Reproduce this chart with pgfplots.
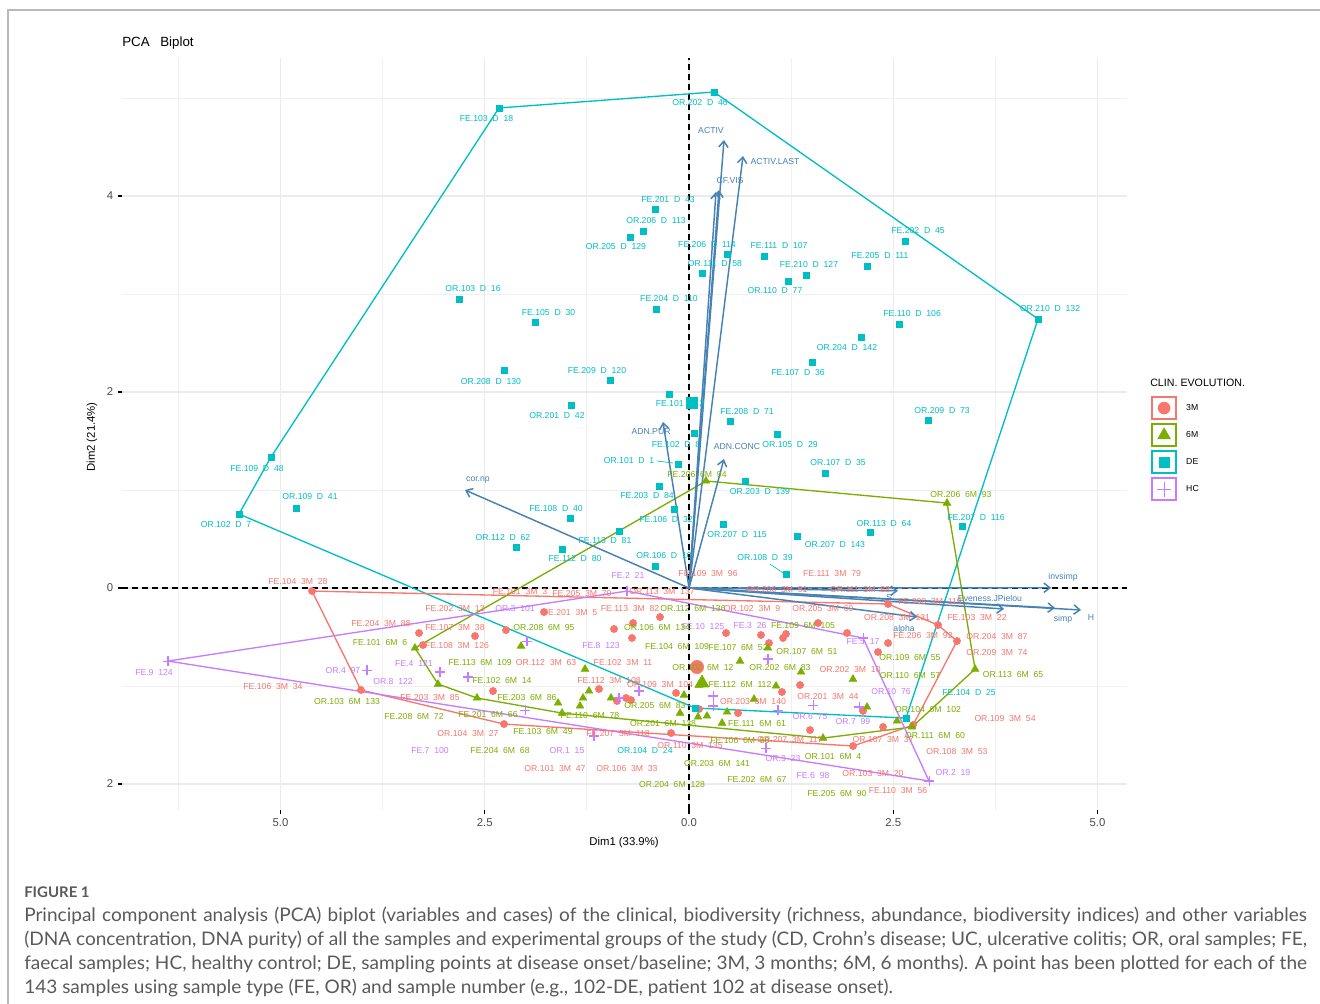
\documentclass[border=0pt]{standalone}
\usepackage{fontspec}
\setmainfont{Liberation Sans}
\newfontfamily\capfont[FakeStretch=1.02]{Lato}
\usepackage{pgfplots}
\pgfplotsset{compat=1.18}
\usetikzlibrary{arrows.meta}
\definecolor{c3M}{HTML}{F8766D}
\definecolor{c6M}{HTML}{7CAE00}
\definecolor{cDE}{HTML}{00BFC4}
\definecolor{cHC}{HTML}{C77CFF}
\definecolor{steel}{HTML}{4682B4}
\definecolor{gridc}{HTML}{EBEBEB}
\definecolor{capgray}{HTML}{5A5A5A}
\newcommand\labfont{\fontsize{6.5}{7}\selectfont\spaceskip=0.55em\relax}
\pgfplotsset{
  lab/.style={only marks, mark=none, forget plot, point meta=explicit symbolic,
    nodes near coords,
    every node near coord/.append style={anchor=center, inner sep=0pt, text=#1, font=\labfont}},
  arr/.style={steel, line width=1.1pt, forget plot, -{Straight Barb[length=4.5pt,width=7pt]}},
  keyimg/.style 2 args={legend image code/.code={%
    \draw[#1, line width=1.2pt] (0pt,-8.25pt) rectangle (18pt,8.25pt);
    \draw[mark repeat=2, mark phase=2, ##1, mark size=#2] plot coordinates {(0pt,0pt)(9pt,0pt)(18pt,0pt)};}},
}
\begin{document}
\begin{tikzpicture}
\useasboundingbox (0,0) rectangle (990pt,-752.25pt);
\fill[white] (0,0) rectangle (990pt,-752.25pt);
\draw[gray!55, line width=0.8pt] (6pt,-7.5pt) rectangle (1000pt,-770pt);
\node[anchor=base west, inner sep=0pt, font=\fontsize{10}{12}\selectfont] at (91.5pt,-34.5pt) {PCA\hspace{8pt}Biplot};
\node[anchor=base west, inner sep=0pt, font=\fontsize{8}{9}\selectfont] at (862.5pt,-289.5pt) {CLIN. EVOLUTION.};
\begin{axis}[
  at={(91.5pt,-607.5pt)}, anchor=south west,
  scale only axis, width=753.75pt, height=564pt,
  xmin=-6.94, xmax=5.361, ymin=-2.265, ymax=5.408,
  clip=false,
  axis line style={draw=none},
  tick pos=left, tick align=outside,
  major tick length=3pt, minor tick length=0pt,
  tick style={black, line width=0.9pt},
  xtick={-5,-2.5,0,2.5,5}, xticklabels={5.0,2.5,0.0,2.5,5.0},
  ytick={-2,0,2,4}, yticklabels={2,0,2,4},
  minor xtick={-6.25,-3.75,-1.25,1.25,3.75},
  minor ytick={-1,1,3,5},
  grid=both,
  major grid style={gridc, line width=1.1pt},
  minor grid style={gridc!75, line width=0.6pt},
  ticklabel style={font=\fontsize{8.5}{10}\selectfont, text=black!70},
  xlabel={Dim1 (33.9\%)}, ylabel={Dim2 (21.4\%)},
  label style={font=\fontsize{8.5}{10}\selectfont},
  xlabel style={at={(axis description cs:0.4995,-0.0439)}, anchor=center},
  ylabel style={at={(axis description cs:-0.0299,0.496)}, anchor=center},
  legend style={at={(axis description cs:1.0239,0.5505)}, anchor=north west,
    draw=none, fill=none, font=\fontsize{6.5}{7}\selectfont,
    row sep=2.6pt, column sep=5pt, inner sep=0pt},
  legend cell align=left,
]
% zero lines
\addplot[black, line width=1.3pt, dash pattern=on 4.5pt off 3pt, forget plot] coordinates {(-6.94,0) (5.361,0)};
\addplot[black, line width=1.3pt, dash pattern=on 4.5pt off 3pt, forget plot] coordinates {(0,-2.265) (0,5.408)};
% hulls
\addplot[cDE, line width=1pt, forget plot] coordinates {(0.306,5.061) (4.272,2.745) (2.656,-1.327) (0.073,-1.224) (-5.508,0.755) (-5.116,1.337) (-2.326,4.898) (0.306,5.061)};
\addplot[c3M, line width=1pt, forget plot] coordinates {(-4.614,-0.031) (2.436,-0.163) (3.048,-0.378) (3.280,-0.541) (2.742,-1.398) (2.007,-1.612) (-2.264,-1.388) (-4.015,-1.041) (-4.614,-0.031)};
\addplot[c6M, line width=1pt, forget plot] coordinates {(0.208,1.092) (3.158,0.867) (3.501,-0.827) (2.729,-1.418) (1.640,-1.531) (-1.554,-1.276) (-2.595,-1.122) (-3.072,-0.980) (-3.354,-0.612) (0.208,1.092)};
\addplot[cHC, line width=1pt, forget plot] coordinates {(-6.377,-0.745) (-0.759,-0.031) (2.130,-0.510) (2.938,-1.969) (-6.377,-0.745)};
% leader lines
\addplot[cDE, line width=0.5pt, forget plot] coordinates {(-0.392,1.296) (-0.196,1.276)};
\addplot[cDE, line width=0.5pt, forget plot] coordinates {(0.991,0.245) (1.151,0.153)};
% markers
\addplot[only marks, mark=*, c3M, mark size=2.7pt, keyimg={c3M}{4.5pt}]
 coordinates {(-4.614,-0.031) (-3.305,-0.459) (-3.256,-0.582) (-2.619,-0.490) (-2.240,-0.429) (-1.775,-0.245) (-0.918,-0.418) (-0.685,-0.357) (-0.698,-0.510) (-0.355,-0.296) (-1.102,-1.031) (-0.771,-1.122) (-0.710,-1.143) (-0.881,-1.153) (-2.399,-1.051) (-2.264,-1.388) (-4.015,-1.041) (-0.159,-1.071) (-0.220,-1.480) (0.453,-0.459) (0.881,-0.480) (0.979,-0.561) (1.151,-0.510) (1.187,-0.469) (1.579,-0.357) (1.934,-0.459) (2.436,-0.163) (3.048,-0.378) (3.280,-0.541) (2.436,-0.561) (2.313,-0.653) (1.138,-1.061) (1.359,-0.990) (0.600,-1.276) (1.481,-1.449) (2.007,-1.612) (2.130,-1.255) (2.375,-1.418) (2.742,-1.398) (0.122,-1.235)};
\addlegendentry{3M}
\addplot[only marks, mark=triangle*, c6M, mark size=3.3pt, keyimg={c6M}{5.5pt}]
 coordinates {(-3.354,-0.612) (-3.072,-0.980) (-2.595,-1.122) (-2.056,-0.592) (-1.273,-0.827) (-1.224,-1.051) (-1.297,-1.122) (-1.603,-1.173) (-1.334,-1.204) (-1.554,-1.276) (-0.955,-1.122) (-0.061,-1.092) (-0.110,-1.276) (0.122,-0.990) (0.208,1.092) (3.158,0.867) (3.501,-0.827) (2.729,-1.418) (2.546,-1.357) (1.640,-1.531) (0.967,-0.612) (0.624,-0.745) (1.371,-0.857) (1.065,-1.000) (2.007,-0.929) (0.796,-1.133) (0.465,-1.265) (0.220,-1.306) (0.110,-1.316) (0.404,-1.378) (2.179,-1.214)};
\addlegendentry{6M}
\addplot[only marks, mark=square*, cDE, mark size=2.3pt, keyimg={cDE}{4pt}]
 coordinates {(0.306,5.061) (-2.326,4.898) (-0.416,3.867) (-0.563,3.643) (-0.722,3.582) (-2.815,2.949) (-1.885,2.714) (-0.404,2.847) (0.465,3.408) (0.159,3.214) (0.918,3.388) (1.432,3.194) (1.212,3.133) (2.179,3.286) (2.644,3.541) (4.272,2.745) (2.570,2.694) (2.105,2.561) (1.506,2.306) (-2.264,2.224) (-0.967,2.122) (-0.245,1.980) (-1.444,1.867) (-5.116,1.337) (-4.810,0.816) (-5.508,0.755) (-1.457,0.714) (-2.118,0.418) (-1.554,0.398) (-0.857,0.582) (-0.416,0.224) (-0.367,1.041) (-0.184,0.806) (-0.135,1.265) (0.061,1.582) (0.685,1.092) (0.416,0.653) (1.077,1.571) (0.502,1.704) (2.925,1.714) (1.665,1.173) (3.341,0.633) (2.215,0.571) (1.322,0.531) (1.187,0.143) (0.073,-1.224) (2.656,-1.327)};
\addlegendentry{DE}
\addplot[only marks, mark=+, cHC, mark size=3.8pt, line width=0.8pt, keyimg={cHC}{5.5pt}]
 coordinates {(-6.377,-0.745) (-3.941,-0.837) (-3.048,-0.857) (-2.705,-0.908) (-1.983,-0.541) (-0.759,-0.031) (-0.857,-1.122) (-0.612,-1.051) (-2.007,-1.245) (-1.163,-1.510) (0.967,-0.724) (2.130,-0.510) (0.294,-1.102) (0.294,-1.204) (1.089,-1.245) (1.518,-1.194) (2.081,-1.214) (0.942,-1.633) (2.938,-1.969)};
\addlegendentry{HC}
% group means
\addplot[only marks, mark=*, c3M, mark size=5pt, forget plot] coordinates {(0.098,-0.806)};
\addplot[only marks, mark=triangle*, c6M, mark size=6pt, forget plot] coordinates {(0.159,-0.969)};
\addplot[only marks, mark=square*, cDE, mark size=4pt, forget plot] coordinates {(0.037,1.888)};
% labels
\addplot[lab=cDE] coordinates {
(-2.479,4.789) [FE.103 D 18] (0.135,4.949) [OR.202 D 46] (-0.257,3.969) [FE.201 D 43] (-0.404,3.745) [OR.206 D 113]
(-0.894,3.480) [OR.205 D 129] (-2.644,3.051) [OR.103 D 16] (-1.720,2.816) [FE.105 D 30] (-0.245,2.949) [FE.204 D 110]
(0.220,3.510) [FE.206 D 114] (0.318,3.306) [OR.111 D 58] (1.102,3.490) [FE.111 D 107] (1.469,3.296) [FE.210 D 127]
(1.053,3.031) [OR.110 D 77] (2.338,3.388) [FE.205 D 111] (2.803,3.643) [FE.202 D 45] (4.419,2.847) [OR.210 D 132]
(2.730,2.796) [FE.110 D 106] (1.934,2.459) [OR.204 D 142] (1.334,2.204) [FE.107 D 36] (-2.424,2.112) [OR.208 D 130]
(-1.126,2.224) [FE.209 D 120] (-0.110,1.878) [FE.101 D 2] (-1.616,1.765) [OR.201 D 42] (-5.288,1.224) [FE.109 D 48]
(-4.639,0.929) [OR.109 D 41] (-5.667,0.653) [OR.102 D 7] (-1.628,0.816) [FE.108 D 40] (-2.277,0.520) [OR.112 D 62]
(-1.395,0.296) [FE.112 D 80] (-1.028,0.480) [FE.113 D 81] (-0.514,0.939) [FE.203 D 84] (-0.282,0.694) [FE.106 D 32]
(-0.734,1.296) [OR.101 D 1] (-0.159,1.469) [FE.102 D 8] (-0.306,0.327) [OR.106 D 10] (0.710,1.806) [FE.208 D 71]
(1.236,1.469) [OR.105 D 29] (3.097,1.816) [OR.209 D 73] (1.824,1.276) [OR.107 D 35] (0.869,0.980) [OR.203 D 139]
(3.513,0.724) [FE.207 D 116] (2.387,0.663) [OR.113 D 64] (0.588,0.541) [OR.207 D 115] (1.787,0.449) [OR.207 D 143]
(0.930,0.316) [OR.108 D 39] (-0.539,-1.653) [OR.104 D 24] (3.427,-1.071) [FE.104 D 25]
};
\addplot[lab=cHC] coordinates {
(-6.548,-0.857) [FE.9 124] (-4.235,-0.837) [OR.4 97] (-3.623,-0.949) [OR.8 122] (-3.366,-0.765) [FE.4 121]
(-2.130,-0.214) [OR.3 101] (-1.077,-0.582) [FE.8 123] (-0.747,0.133) [FE.2 21] (0.171,-0.388) [FE.10 125]
(0.747,-0.378) [FE.3 26] (2.130,-0.551) [FE.5 17] (2.472,-1.061) [OR.10 76] (1.481,-1.306) [OR.6 75]
(2.007,-1.367) [OR.7 99] (1.151,-1.735) [OR.3 23] (1.518,-1.908) [FE.6 98] (-1.493,-1.653) [OR.1 15]
(-3.170,-1.663) [FE.7 100] (3.231,-1.878) [OR.2 19]
};
\addplot[lab=c3M] coordinates {
(-4.786,0.071) [FE.104 3M 28] (-3.770,-0.367) [FE.204 3M 88] (-5.092,-1.000) [FE.106 3M 34] (-2.069,-0.031) [FE.101 3M 3]
(-1.310,-0.051) [FE.205 3M 70] (-0.330,-0.031) [OR.113 3M 137] (-2.864,-0.204) [FE.202 3M 13] (-1.457,-0.245) [FE.201 3M 5]
(-0.722,-0.214) [FE.113 3M 82] (-2.864,-0.398) [FE.107 3M 38] (-2.840,-0.582) [FE.108 3M 126] (-1.750,-0.755) [OR.112 3M 63]
(-0.808,-0.765) [FE.102 3M 11] (-0.979,-0.939) [FE.112 3M 108] (-0.355,-0.980) [OR.109 3M 104] (-3.170,-1.122) [FE.203 3M 85]
(-2.705,-1.480) [OR.104 3M 27] (-0.869,-1.480) [FE.207 3M 118] (-1.640,-1.837) [OR.101 3M 47] (-0.759,-1.837) [OR.106 3M 33]
(0.012,-1.602) [OR.110 3M 135] (0.233,0.143) [FE.109 3M 96] (1.750,0.153) [FE.111 3M 79] (1.077,-0.020) [OR.206 3M 91]
(2.093,-0.020) [OR.111 3M 88] (0.771,-0.204) [OR.102 3M 9] (1.640,-0.204) [OR.205 3M 69] (2.546,-0.306) [OR.208 3M 131]
(2.950,-0.133) [FE.208 3M 119] (2.864,-0.480) [FE.206 3M 92] (3.525,-0.306) [FE.103 3M 22] (3.770,-0.490) [OR.204 3M 87]
(3.770,-0.663) [OR.209 3M 74] (1.971,-0.827) [OR.202 3M 10] (1.701,-1.102) [OR.201 3M 44] (0.783,-1.153) [OR.203 3M 140]
(1.236,-1.541) [OR.207 3M 117] (2.375,-1.541) [OR.107 3M 37] (3.868,-1.327) [OR.109 3M 54] (3.280,-1.673) [OR.108 3M 53]
(2.252,-1.888) [OR.103 3M 20] (2.558,-2.071) [FE.110 3M 56]
};
\addplot[lab=c6M] coordinates {
(0.098,1.163) [FE.206 6M 94] (3.329,0.959) [OR.206 6M 93] (-3.782,-0.561) [FE.101 6M 6] (-4.186,-1.153) [OR.103 6M 133]
(-3.366,-1.316) [FE.208 6M 72] (-1.775,-0.408) [OR.208 6M 95] (-0.392,-0.408) [OR.106 6M 134] (0.049,-0.204) [OR.112 6M 136]
(-2.558,-0.755) [FE.113 6M 109] (-0.147,-0.592) [FE.104 6M 109] (-2.289,-0.939) [FE.102 6M 14] (0.171,-0.806) [OR.102 6M 12]
(-1.983,-1.122) [FE.203 6M 86] (-2.460,-1.286) [FE.201 6M 66] (-1.212,-1.296) [FE.110 6M 78] (-0.416,-1.194) [OR.205 6M 83]
(-0.318,-1.378) [OR.201 6M 138] (-1.787,-1.469) [FE.103 6M 49] (-2.313,-1.663) [FE.204 6M 68] (-0.208,-2.000) [OR.204 6M 128]
(0.343,-1.786) [OR.203 6M 141] (1.395,-0.378) [FE.109 6M 105] (0.600,-0.602) [FE.107 6M 52] (1.444,-0.643) [OR.107 6M 51]
(1.114,-0.816) [OR.202 6M 83] (0.624,-0.980) [FE.112 6M 112] (0.832,-1.378) [FE.111 6M 61] (0.624,-1.561) [FE.106 6M 50]
(1.763,-1.724) [OR.101 6M 4] (0.832,-1.949) [FE.202 6M 67] (1.811,-2.092) [FE.205 6M 90] (2.705,-0.704) [OR.109 6M 55]
(2.705,-0.888) [OR.110 6M 57] (2.925,-1.235) [OR.104 6M 102] (3.011,-1.500) [OR.111 6M 60] (3.966,-0.878) [OR.113 6M 65]
};
% variable arrows
\addplot[arr] coordinates {(0,0) (0.428,4.571)};
\addplot[arr] coordinates {(0,0) (0.661,4.408)};
\addplot[arr] coordinates {(0,0) (0.367,4.061)};
\addplot[arr] coordinates {(0,0) (0.330,4.041)};
\addplot[arr] coordinates {(0,0) (-0.318,1.694)};
\addplot[arr] coordinates {(0,0) (0.428,1.316)};
\addplot[arr] coordinates {(0,0) (-2.742,1.000)};
\addplot[arr] coordinates {(0,0) (4.431,0.003)};
\addplot[arr] coordinates {(0,0) (3.856,-0.214)};
\addplot[arr] coordinates {(0,0) (4.480,-0.204)};
\addplot[arr] coordinates {(0,0) (4.798,-0.224)};
\addplot[arr] coordinates {(0,0) (2.791,-0.296)};
\addplot[arr] coordinates {(0,0) (2.558,-0.028)};
\addplot[lab=steel] coordinates {
(0.269,4.673) [ACTIV] (1.053,4.347) [ACTIV.LAST] (0.502,4.163) [CF.VIS] (-0.465,1.592) [ADN.PUR]
(0.588,1.439) [ADN.CONC] (-2.583,1.102) [cor.np] (4.578,0.112) [invsimp] (3.684,-0.102) [Eveness.JPielou]
(4.578,-0.316) [simp] (4.920,-0.296) [H] (2.632,-0.418) [alpha] (2.448,-0.092) [S]
};
\end{axis}
\node[anchor=base west, inner sep=0pt, text=capgray, font=\capfont\bfseries\fontsize{11}{13}\selectfont] at (18pt,-672.75pt) {FIGURE 1};
\begin{scope}[every node/.style={anchor=base west, inner sep=0pt, text=capgray, font=\capfont\fontsize{14}{18}\selectfont}]
\node at (18pt,-690.75pt) {\makebox[962pt][s]{Principal component analysis (PCA) biplot (variables and cases) of the clinical, biodiversity (richness, abundance, biodiversity indices) and other variables}};
\node at (18pt,-708.75pt) {\makebox[962pt][s]{(DNA concentration, DNA purity) of all the samples and experimental groups of the study (CD, Crohn’s disease; UC, ulcerative colitis; OR, oral samples; FE,}};
\node at (18pt,-726.75pt) {\makebox[962pt][s]{faecal samples; HC, healthy control; DE, sampling points at disease onset/baseline; 3M, 3 months; 6M, 6 months). A point has been plotted for each of the}};
\node at (18pt,-744.75pt) {143 samples using sample type (FE, OR) and sample number (e.g., 102-DE, patient 102 at disease onset).};
\end{scope}
\end{tikzpicture}
\end{document}
